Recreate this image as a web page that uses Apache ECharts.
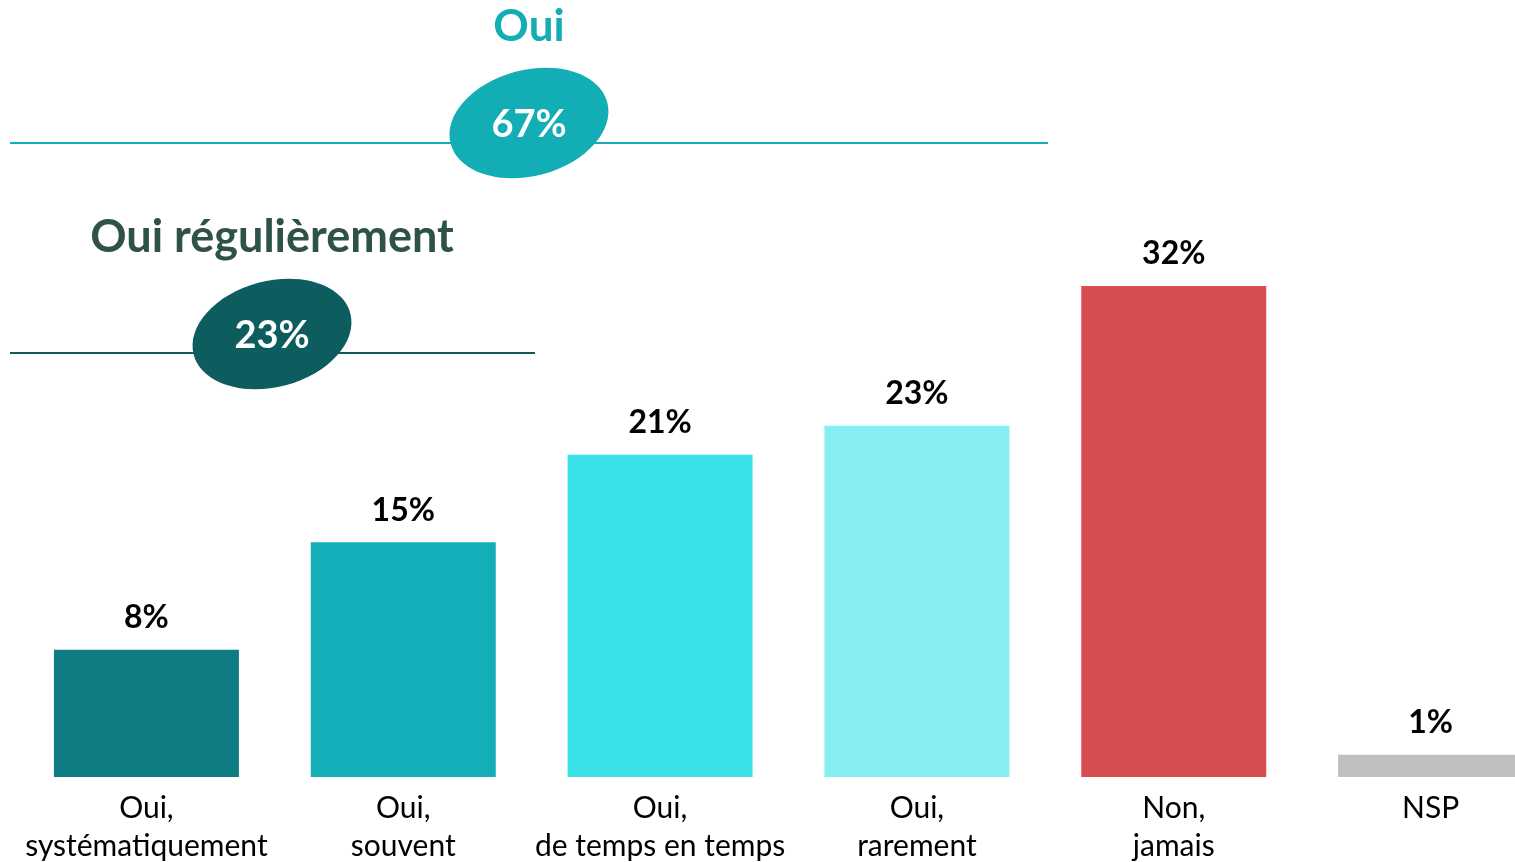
<!DOCTYPE html>
<html>
<head>
<meta charset="utf-8">
<script src="https://cdn.jsdelivr.net/npm/echarts@6/dist/echarts.min.js"></script>
<style>
  html, body { margin: 0; padding: 0; background: #fff; }
  #chart { width: 1515px; height: 862px; }
</style>
</head>
<body>
<div id="chart"></div>
<script>
var categories = ["Oui,\nsystématiquement", "Oui,\nsouvent", "Oui,\nde temps en temps", "Oui,\nrarement", "Non,\njamais", "NSP"];
var values = [8.3, 15.3, 21.0, 22.9, 32.0, 1.45];
var barColors = ["#0F7B82", "#13AEB7", "#3BE1E9", "#86EEF2", "#D84D50", "#BFBFBF"];

var font = "Lato, 'Noto Sans', sans-serif";

var chartDom = document.getElementById("chart");
var myChart = echarts.init(chartDom);
var option;

function badge(cx, cy, color, text) {
  return {
    type: "group",
    x: cx,
    y: cy,
    children: [
      {
        type: "ellipse",
        rotation: 0.26,
        shape: { cx: 0, cy: 0, rx: 81, ry: 53 },
        style: { fill: color }
      },
      {
        type: "text",
        x: 0,
        y: 2,
        style: {
          text: text,
          fill: "#fff",
          font: "bold 38px " + font,
          align: "center",
          verticalAlign: "middle"
        }
      }
    ]
  };
}

option = {
  animation: false,
  grid: {
    left: 18,
    width: 1541,
    top: 286,
    height: 491,
    containLabel: false,
    outerBoundsMode: "none"
  },
  xAxis: {
    type: "category",
    data: categories,
    axisLine: { show: false },
    axisTick: { show: false },
    axisLabel: {
      color: "#000",
      fontFamily: font,
      fontSize: 30,
      lineHeight: 38,
      margin: 12,
      interval: 0
    }
  },
  yAxis: {
    type: "value",
    min: 0,
    max: 32,
    show: false
  },
  series: [
    {
      type: "bar",
      barWidth: 185,
      data: values.map(function (v, i) {
        return { value: v, itemStyle: { color: barColors[i] } };
      }),
      label: {
        show: true,
        position: "top",
        distance: 16,
        color: "#000",
        fontFamily: font,
        fontWeight: "bold",
        fontSize: 32,
        formatter: function (obj) {
          return Math.round(obj.value) + "%";
        }
      }
    }
  ],
  graphic: [
    {
      type: "line",
      shape: { x1: 10, y1: 143, x2: 1048, y2: 143 },
      style: { stroke: "#13AEB5", lineWidth: 2 }
    },
    {
      type: "line",
      shape: { x1: 10, y1: 353, x2: 535, y2: 353 },
      style: { stroke: "#0D5C5E", lineWidth: 2 }
    },
    {
      type: "text",
      x: 529,
      y: 27,
      style: {
        text: "Oui",
        fill: "#13AEB5",
        font: "bold 44px " + font,
        align: "center",
        verticalAlign: "middle"
      }
    },
    {
      type: "text",
      x: 272,
      y: 237,
      style: {
        text: "Oui régulièrement",
        fill: "#2E5249",
        font: "bold 45px " + font,
        align: "center",
        verticalAlign: "middle"
      }
    },
    badge(529, 123, "#13AEB5", "67%"),
    badge(272, 334, "#0D5C5E", "23%")
  ]
};

option && myChart.setOption(option);
</script>
</body>
</html>
